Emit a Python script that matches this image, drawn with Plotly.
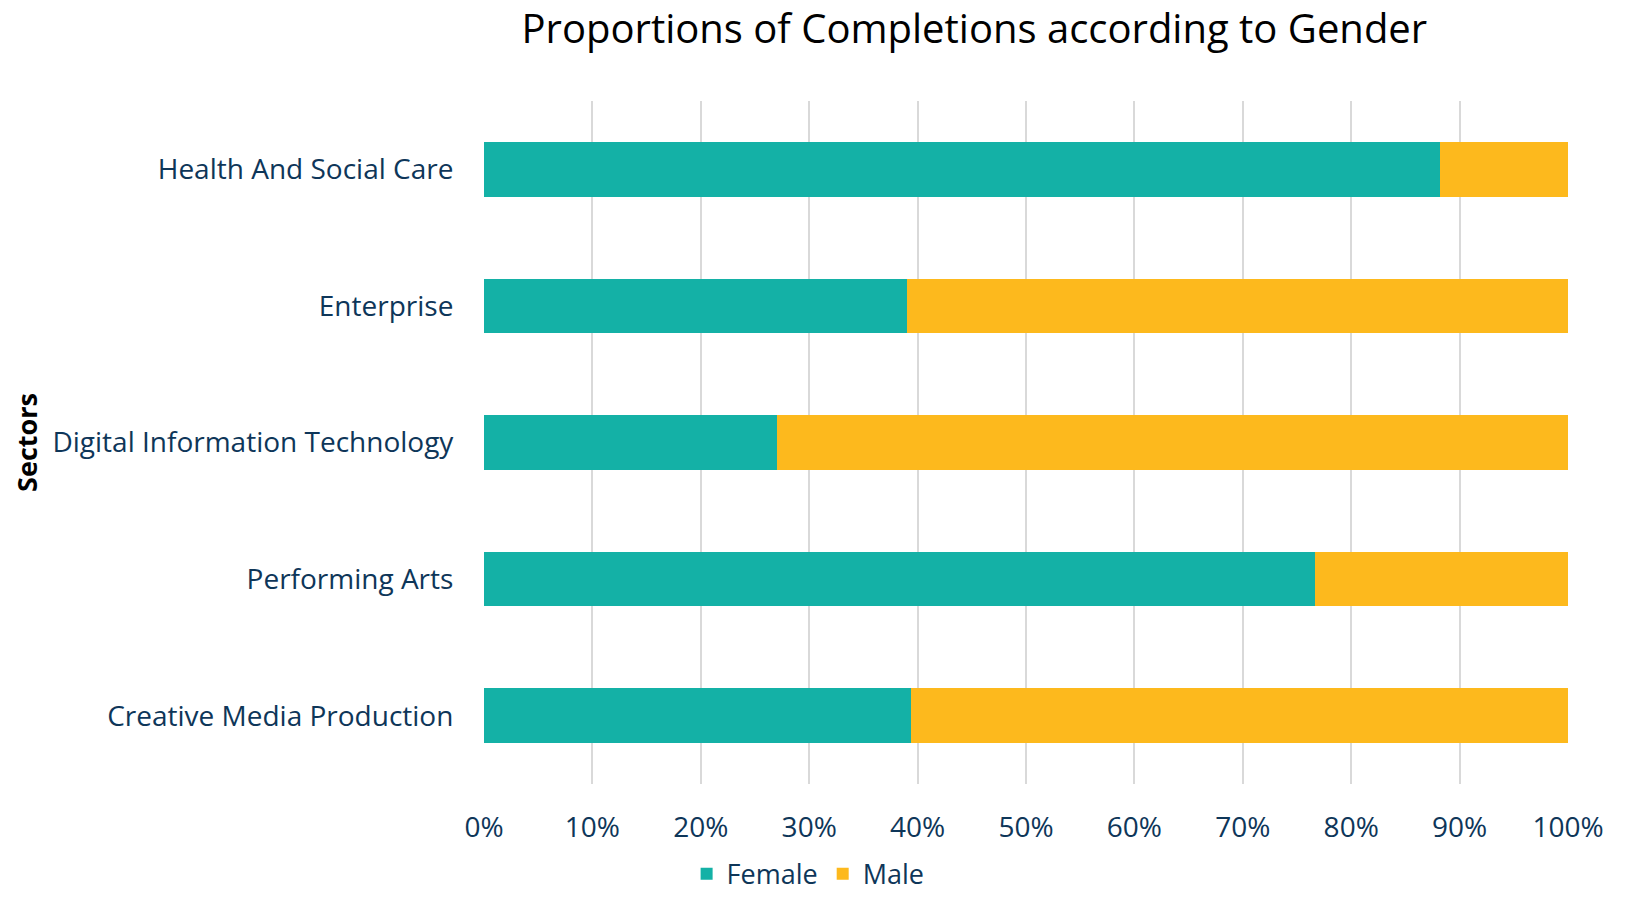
import plotly.graph_objects as go

sectors = ["Health And Social Care", "Enterprise", "Digital Information Technology",
           "Performing Arts", "Creative Media Production"]
female = [0.882, 0.390, 0.270, 0.767, 0.394]
male = [round(1 - f, 3) for f in female]

TEXT = "#0E3659"
TEAL = "#14B1A6"
YELLOW = "#FDB91D"
FONT = "Open Sans"

fig = go.Figure()
fig.add_trace(go.Bar(y=sectors, x=female, name="Female", orientation="h",
                     marker=dict(color=TEAL, line=dict(width=0))))
fig.add_trace(go.Bar(y=sectors, x=male, name="Male", orientation="h",
                     marker=dict(color=YELLOW, line=dict(width=0))))

# page body has an 8px default margin, so the figure is sized to fit inside the viewport
fig.update_layout(
    barmode="stack",
    bargap=0.6,
    width=1616, height=885,
    margin=dict(l=476, r=56, t=93, b=109, autoexpand=False),
    paper_bgcolor="white", plot_bgcolor="white",
    font=dict(family=FONT, color=TEXT, size=27),
    title=dict(text="Proportions of Completions according to Gender",
               x=0.598, xanchor="center", y=1, yanchor="top", pad=dict(t=7),
               font=dict(size=40, color="black", family=FONT)),
    legend=dict(orientation="h", x=0.299, xanchor="center", y=-0.132, yanchor="middle",
                font=dict(size=27, color=TEXT), traceorder="normal"),
    showlegend=True,
)
fig.update_xaxes(range=[0, 1], tickformat=".0%", dtick=0.1, showgrid=True,
                 gridcolor="#D9D9D9", gridwidth=2, zeroline=False,
                 ticks="outside", ticklen=18, tickcolor="rgba(0,0,0,0)",
                 tickfont=dict(size=28, color=TEXT), fixedrange=True)
fig.update_yaxes(autorange="reversed", showgrid=False, zeroline=False,
                 ticks="outside", ticklen=24, tickcolor="rgba(0,0,0,0)",
                 tickfont=dict(size=28, color=TEXT),
                 title=dict(text="<b>Sectors</b>", font=dict(size=27, color="black"), standoff=8))

fig.write_html("out.html")
